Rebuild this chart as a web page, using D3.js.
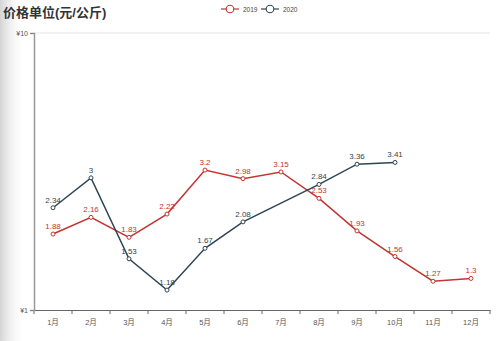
<!DOCTYPE html>
<html><head><meta charset="utf-8">
<script src="https://cdn.jsdelivr.net/npm/d3@7/dist/d3.min.js"></script>
<style>body{margin:0;background:#fff}svg{display:block}text{font-family:"Liberation Sans","Noto Sans CJK SC",sans-serif}</style>
</head><body><svg id="c" width="500" height="341"></svg>
<script>
const months = ["1月","2月","3月","4月","5月","6月","7月","8月","9月","10月","11月","12月"];
const seriesNames = ["2019","2020"];
const v2019 = [1.88,2.16,1.83,2.22,3.2,2.98,3.15,2.53,1.93,1.56,1.27,1.3];
const v2020 = [2.34,3,1.53,1.18,1.67,2.08,null,2.84,3.36,3.41];
const yTicks = [1,10];
const colors = ["#c23531","#2f4554"];
const title = "价格单位(元/公斤)";

const svg = d3.select("#c");
const defs = svg.append("defs");
const g0 = defs.append("linearGradient").attr("id","sh").attr("x1","0").attr("x2","1");
g0.append("stop").attr("offset","0").attr("stop-color","#d4d4d4");
g0.append("stop").attr("offset","1").attr("stop-color","#fff").attr("stop-opacity",0);
svg.append("rect").attr("x",0).attr("y",0).attr("width",26).attr("height",341).attr("fill","url(#sh)");

const L=34,R=490,T=33,B=310;
const x = d3.scaleBand().domain(months).range([L,R]);
const y = d3.scaleLog().domain([1,10]).range([B,T]);

// grid
svg.append("line").attr("x1",L).attr("x2",R).attr("y1",y(10)).attr("y2",y(10)).attr("stroke","#e6e6e6");

// axes
const xa = svg.append("g").attr("transform",`translate(0,${B})`).call(d3.axisBottom(x).tickSize(0).tickPadding(10));
xa.select(".domain").attr("stroke","#666");
xa.selectAll("text").attr("fill","#555").attr("font-size",7.5);
svg.append("g").selectAll("line").data(d3.range(months.length+1)).join("line")
  .attr("x1",i=>L+i*x.step()).attr("x2",i=>L+i*x.step()).attr("y1",B).attr("y2",B+4).attr("stroke","#666");

const ya = svg.append("g").attr("transform",`translate(${L},0)`).call(d3.axisLeft(y).tickValues(yTicks).tickSize(4).tickPadding(2).tickFormat(d=>"¥"+d));
ya.select(".domain").attr("stroke","#999").attr("stroke-width",1.5);
ya.selectAll("line").attr("stroke","#888");
ya.selectAll("text").attr("fill","#555").attr("font-size",7);

const data = [v2019,v2020];
data.forEach((arr,si)=>{
  const pts = arr.map((v,i)=>({v,i})).filter(d=>d.v!=null);
  const line = d3.line().x(d=>x(months[d.i])+x.bandwidth()/2).y(d=>y(d.v));
  svg.append("path").attr("d",line(pts)).attr("fill","none").attr("stroke",colors[si]).attr("stroke-width",1.5);
  svg.append("g").selectAll("circle").data(pts).join("circle")
    .attr("cx",d=>x(months[d.i])+x.bandwidth()/2).attr("cy",d=>y(d.v)).attr("r",2)
    .attr("fill","#fff").attr("stroke",colors[si]).attr("stroke-width",1);
  svg.append("g").selectAll("text").data(pts).join("text")
    .attr("x",d=>x(months[d.i])+x.bandwidth()/2).attr("y",d=>y(d.v)-5)
    .attr("text-anchor","middle").attr("font-size",8).attr("fill",colors[si]).text(d=>d.v);
});

// title
svg.append("text").attr("x",3).attr("y",17).attr("font-size",13).attr("font-weight","bold").attr("fill","#333").text(title);

// legend
const lx=[221,261];
seriesNames.forEach((n,i)=>{
  const g=svg.append("g");
  g.append("line").attr("x1",lx[i]).attr("x2",lx[i]+18).attr("y1",9).attr("y2",9).attr("stroke",colors[i]).attr("stroke-width",1.2);
  g.append("circle").attr("cx",lx[i]+9).attr("cy",9).attr("r",3.8).attr("fill","#fff").attr("stroke",colors[i]).attr("stroke-width",1.1);
  g.append("text").attr("x",lx[i]+22).attr("y",11.5).attr("font-size",6.5).attr("fill","#444").text(n);
});
</script></body></html>
